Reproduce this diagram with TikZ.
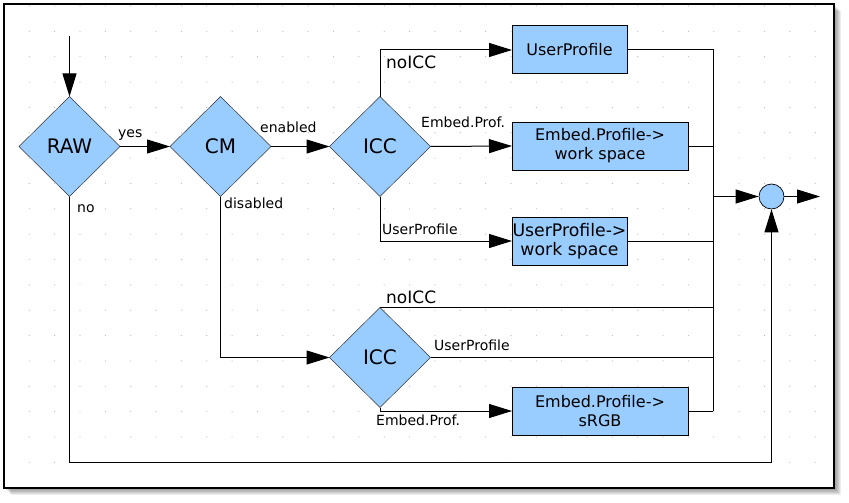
\documentclass[tikz,border=0pt]{standalone}
\usepackage{fontspec}
\setmainfont{DejaVu Sans}
\usepackage{xcolor}
\usetikzlibrary{arrows.meta}
\usetikzlibrary{shapes.geometric}
\usetikzlibrary{calc}
\definecolor{boxblue}{RGB}{153,204,255}
\definecolor{dotgray}{RGB}{185,185,185}
\tikzset{
	decision/.style={diamond, aspect=1, fill=boxblue, draw=black!80, line width=0.5pt, minimum width=101pt, minimum height=100pt, inner sep=0pt, outer sep=0pt, font=\fontsize{20}{24}\selectfont},
	action/.style={rectangle, fill=boxblue, draw=black, line width=1pt, minimum height=48pt, inner sep=0pt, outer sep=0pt, align=center, font=\fontsize{16}{19}\selectfont},
	lbl/.style={inner sep=0pt, anchor=base west, font=\fontsize{14}{16}\selectfont},
	flow/.style={line width=1pt, -{Triangle[length=23pt,width=14pt]}},
	wire/.style={line width=1pt}
}

\begin{document}
\begin{tikzpicture}[x=1pt,y=-1pt]
					\useasboundingbox (0,0) rectangle (849,503);
					%shadow and frame
					\foreach \i in {1,...,7} \fill[black, opacity=0.07] (4+\i,4+\i) rectangle (834+\i,488+\i);
					\fill[white] (4,4) rectangle (834,488);
					\foreach \gx in {0,...,31} \foreach \gy in {0,...,19} \fill[dotgray] (29.3+25.35*\gx,6+25.35*\gy) circle (0.6pt);
					\draw[line width=1.3pt] (4,4) rectangle (834,488);
					%decisions
					\node[decision] (raw) at (69.5,146.5) {RAW};
					\node[decision] (cm) at (220.5,146.5) {CM};
					\node[decision] (icc) at (380,146.5) {ICC};
					\node[decision] (iccb) at (380,357.5) {ICC};
					%actions
					\node[action, minimum width=115pt] (user) at (569.5,50) {UserProfile};
					\node[action, minimum width=176pt] (embed) at (600,146) {Embed.Profile->\\work space};
					\node[action, minimum width=115pt, font=\fontsize{17.3}{19}\selectfont] (userws) at (569.5,241) {UserProfile->\\work space};
					\node[action, minimum width=176pt] (srgb) at (600,411) {Embed.Profile->\\sRGB};
					\node[circle, fill=boxblue, draw=black, line width=0.7pt, minimum size=25pt, inner sep=0pt] (sum) at (771.5,196.5) {};
					%free ends
					\coordinate (start) at (69.5,36);
					\coordinate (bus) at (713,411);
					\coordinate (end) at (820,196.5);
					\coordinate (loop) at (771.5,462);
					%main line
					\draw[flow] (start) -- (raw.north);
					\draw[flow] (raw.east) -- (cm.west);
					\draw[flow] (cm.east) -- (icc.west);
					\draw[flow] (icc.north) |- (user.west);
					\draw[flow] (icc.east) -- (embed.west);
					\draw[flow] (icc.south) |- (userws.west);
					\draw[flow] (cm.south) |- (iccb.west);
					\draw[flow] (iccb.south) |- (srgb.west);
					%collect
					\draw[wire] (user.east) -| (bus);
					\draw[wire] (srgb.east) -- (bus);
					\draw[wire] (embed.east) -- (embed.east -| bus);
					\draw[wire] (userws.east) -- (userws.east -| bus);
					\draw[wire] (iccb.north) -- (iccb.north -| bus);
					\draw[wire] (iccb.east) -- (iccb.east -| bus);
					\draw[flow] (sum.west -| bus) -- (sum.west);
					\draw[flow] (sum.east) -- (end);
					\draw[flow] (raw.south) |- (loop) -- (sum.south);
					%labels
					\node[lbl] (lyes) at (118,137) {yes};
					\node[lbl] (lno) at (77,212) {no};
					\node[lbl] (lenabled) at (260,132) {enabled};
					\node[lbl] (ldisabled) at (224,208) {disabled};
					\node[lbl, font=\fontsize{17}{19}\selectfont] (lnoicc) at (386,69) {noICC};
					\node[lbl] (lembed) at (421,127) {Embed.Prof.};
					\node[lbl] (luser) at (382,234) {UserProfile};
					\node[lbl, font=\fontsize{17}{19}\selectfont] (lnoiccb) at (386,303.5) {noICC};
					\node[lbl] (luserb) at (434,350) {UserProfile};
					\node[lbl] (lembedb) at (376,425.5) {Embed.Prof.};
				\end{tikzpicture}
\end{document}
